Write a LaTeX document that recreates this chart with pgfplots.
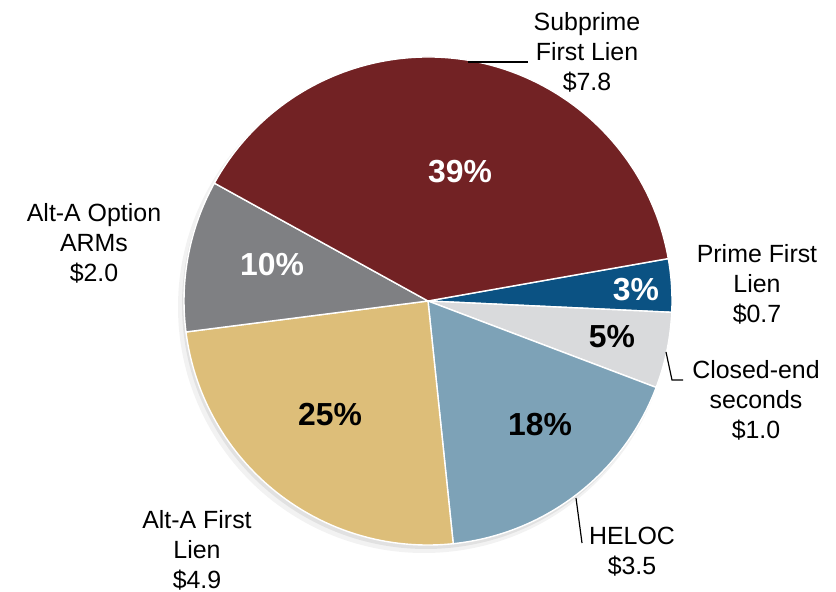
\documentclass[border=0pt]{standalone}
\usepackage{pgfplots}
\pgfplotsset{compat=1.18}
\usepackage{pgfplotstable}
\usepackage{fontspec}
\setmainfont{Liberation Sans}

\definecolor{cSub}{HTML}{722224}
\definecolor{cPrime}{HTML}{0B5283}
\definecolor{cClosed}{HTML}{D9DADC}
\definecolor{cHeloc}{HTML}{7DA2B7}
\definecolor{cAltA}{HTML}{DDBE79}
\definecolor{cOption}{HTML}{7F8083}

% losses by product, $ billions (clockwise from the Prime slice)
\pgfplotstableread{
label    value color
Prime    0.7   cPrime
Closed   1.0   cClosed
HELOC    3.5   cHeloc
AltA     4.9   cAltA
Option   2.0   cOption
Subprime 7.8   cSub
}\piedata

\begin{document}
\begin{tikzpicture}
\begin{axis}[
    hide axis,
    scale only axis,
    width=418bp, height=296bp,
    xmin=0, xmax=836, ymin=0, ymax=592,
    clip=false,
]
% keep the full frame as the picture's extent
\path (axis cs:0,0) rectangle (axis cs:836,592);
% soft shadow
\fill[black, opacity=0.05] (axis cs:424,285) circle[radius=123bp];
\fill[black, opacity=0.07] (axis cs:426,287) circle[radius=122bp];

\pgfplotstablegetrowsof{\piedata}
\pgfmathtruncatemacro\lastrow{\pgfplotsretval-1}
\xdef\total{0}
\foreach \i in {0,...,\lastrow}{
  \pgfplotstablegetelem{\i}{value}\of\piedata
  \pgfmathsetmacro\t{\total+\pgfplotsretval}
  \xdef\total{\t}
}
\xdef\curang{10}
\foreach \i in {0,...,\lastrow}{
  \pgfplotstablegetelem{\i}{value}\of\piedata
  \pgfmathsetmacro\sweep{\pgfplotsretval/\total*360}
  \pgfplotstablegetelem{\i}{color}\of\piedata
  \let\col\pgfplotsretval
  \pgfmathsetmacro\endang{\curang-\sweep}
  \edef\temp{\noexpand\fill[\col, draw=white, line width=0.7pt, line join=round]
    (axis cs:428,291) -- ++(\curang:122bp)
    arc[start angle=\curang, end angle=\endang, radius=122bp] -- cycle;}
  \temp
  \xdef\curang{\endang}
}

% percentages
\tikzset{pct/.style={font=\bfseries\fontsize{16}{19}\selectfont, inner sep=0pt}}
\node[pct, white] at (axis cs:460,420) {39\%};
\node[pct, white] at (axis cs:272,327) {10\%};
\node[pct, white] at (axis cs:636,302) {3\%};
\node[pct] at (axis cs:612,255) {5\%};
\node[pct] at (axis cs:540,167) {18\%};
\node[pct] at (axis cs:330,177) {25\%};

% outer labels
\tikzset{lab/.style={font=\fontsize{12.5}{15}\selectfont, align=center, inner sep=0pt}}
\node[lab] at (axis cs:587,540) {Subprime\\First Lien\\\$7.8};
\node[lab] at (axis cs:757,308) {Prime First\\Lien\\\$0.7};
\node[lab] at (axis cs:756,192) {Closed-end\\seconds\\\$1.0};
\node[lab] at (axis cs:632,40) {HELOC\\\$3.5};
\node[lab] at (axis cs:197,42) {Alt-A First\\Lien\\\$4.9};
\node[lab] at (axis cs:94,349) {Alt-A Option\\ARMs\\\$2.0};

% leader lines
\draw[black, line width=0.6pt] (axis cs:468,530) -- (axis cs:528,530);
\draw[black, line width=0.6pt] (axis cs:666,240) -- (axis cs:672,212) -- (axis cs:683,212);
\draw[black, line width=0.6pt] (axis cs:576,94) -- (axis cs:582,49);
\end{axis}
\end{tikzpicture}
\end{document}
